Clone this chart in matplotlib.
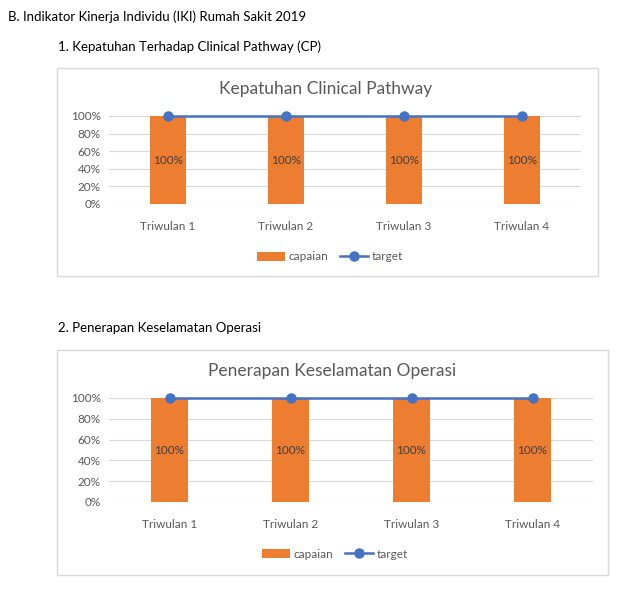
import matplotlib
matplotlib.use("Agg")
import matplotlib.pyplot as plt
from matplotlib.patches import Rectangle

plt.rcParams['font.family'] = ['Lato', 'DejaVu Sans']

categories = ["Triwulan 1", "Triwulan 2", "Triwulan 3", "Triwulan 4"]
capaian_cp = [1.0, 1.0, 1.0, 1.0]
target_cp = [1.0, 1.0, 1.0, 1.0]
capaian_op = [1.0, 1.0, 1.0, 1.0]
target_op = [1.0, 1.0, 1.0, 1.0]
yticks = [0, 0.2, 0.4, 0.6, 0.8, 1.0]
ytick_labels = ["0%", "20%", "40%", "60%", "80%", "100%"]

W, H = 634, 598
fig = plt.figure(figsize=(W / 100, H / 100), dpi=100)
fig.patch.set_facecolor("white")

ORANGE = "#ED7D31"
BLUE = "#4472C4"
GRID = "#D9D9D9"
TXT = "#595959"

def fx(px):
    return px / W

def fy(py):
    return 1 - py / H

def frame(x0, y0, x1, y1):
    fig.add_artist(Rectangle((fx(x0), fy(y1)), fx(x1) - fx(x0), fy(y0) - fy(y1),
                             transform=fig.transFigure, facecolor="none",
                             edgecolor=GRID, linewidth=1.0))

def chart(box, plot, title, title_xy, legend_xy, capaian, target):
    frame(*box)
    x0, y0, x1, y1 = plot
    ax = fig.add_axes([fx(x0), fy(y1), fx(x1) - fx(x0), fy(y0) - fy(y1)])
    xs = list(range(len(categories)))
    bars = ax.bar(xs, capaian, width=0.31, color=ORANGE, zorder=2, label="capaian")
    line, = ax.plot(xs, target, color=BLUE, lw=1.8, marker="o", markersize=6.5, zorder=3,
                    label="target", clip_on=False)
    for b, v in zip(bars, capaian):
        ax.text(b.get_x() + b.get_width() / 2, v / 2, f"{v*100:.0f}%", ha="center", va="center",
                fontsize=8.5, color="#404040", zorder=4)
    ax.set_xlim(-0.5, len(categories) - 0.5)
    ax.set_ylim(0, 1.0)
    ax.set_yticks(yticks)
    ax.set_yticklabels(ytick_labels)
    ax.set_xticks(xs)
    ax.set_xticklabels(categories)
    ax.tick_params(axis="both", length=0, labelsize=8.5, labelcolor=TXT)
    ax.tick_params(axis="x", pad=12)
    ax.tick_params(axis="y", pad=6)
    ax.grid(axis="y", color=GRID, lw=0.8, zorder=0)
    for s in ax.spines.values():
        s.set_visible(False)
    ax.set_axisbelow(True)
    fig.text(fx(title_xy[0]), fy(title_xy[1]), title, ha="center", va="center",
             fontsize=12.5, color=TXT)
    ax.legend(handles=[bars, line], labels=["capaian", "target"],
              loc="center", bbox_to_anchor=(fx(legend_xy[0]), fy(legend_xy[1])),
              bbox_transform=fig.transFigure, ncol=2, frameon=False, fontsize=8.5,
              labelcolor=TXT, handlelength=2.4, handletextpad=0.3, columnspacing=1.0)
    return ax

fig.text(fx(8), fy(17), "B. Indikator Kinerja Individu (IKI) Rumah Sakit 2019",
         ha="left", va="center", fontsize=9.5, color="black")
fig.text(fx(58), fy(47), "1. Kepatuhan Terhadap Clinical Pathway (CP)",
         ha="left", va="center", fontsize=9.5, color="black")
fig.text(fx(58), fy(328), "2. Penerapan Keselamatan Operasi",
         ha="left", va="center", fontsize=9.5, color="black")

chart((57, 68, 598, 276), (109, 116, 581, 204), "Kepatuhan Clinical Pathway", (326, 89),
      (330, 257), capaian_cp, target_cp)
chart((57, 350, 608, 575), (109, 398, 593, 502), "Penerapan Keselamatan Operasi", (332, 371),
      (335, 554), capaian_op, target_op)

fig.savefig("out.png", dpi=100)
